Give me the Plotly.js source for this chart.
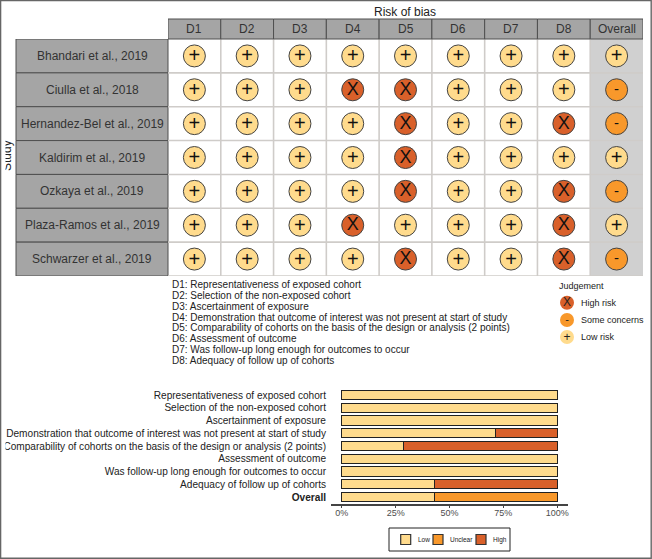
<!DOCTYPE html>
<html><head><meta charset="utf-8">
<script src="https://cdn.plot.ly/plotly-3.0.1.min.js"></script>
<style>html,body{margin:0;padding:0;background:#fff}</style></head>
<body><div id="chart" style="width:652px;height:559px"></div>
<script>
var domains = ["D1","D2","D3","D4","D5","D6","D7","D8","Overall"];
var studies = ["Bhandari et al., 2019","Ciulla et al., 2018","Hernandez-Bel et al., 2019","Kaldirim et al., 2019","Ozkaya et al., 2019","Plaza-Ramos et al., 2019","Schwarzer et al., 2019"];
var bhandari = ["+","+","+","+","+","+","+","+","+"];
var ciulla   = ["+","+","+","X","X","+","+","+","-"];
var hernandez= ["+","+","+","+","X","+","+","X","-"];
var kaldirim = ["+","+","+","+","X","+","+","+","+"];
var ozkaya   = ["+","+","+","+","X","+","+","X","-"];
var plaza    = ["+","+","+","X","+","+","+","X","+"];
var schwarzer= ["+","+","+","+","X","+","+","X","-"];
var judgements = [bhandari,ciulla,hernandez,kaldirim,ozkaya,plaza,schwarzer];
var definitions = ["D1: Representativeness of exposed cohort","D2: Selection of the non-exposed cohort","D3: Ascertainment of exposure","D4: Demonstration that outcome of interest was not present at start of study","D5: Comparability of cohorts on the basis of the design or analysis (2 points)","D6: Assessment of outcome","D7: Was follow-up long enough for outcomes to occur","D8: Adequacy of follow up of cohorts"];
var judgementSymbols = ["X","-","+"];
var judgementLabels = ["High risk","Some concerns","Low risk"];
var barCategories = ["Representativeness of exposed cohort","Selection of the non-exposed cohort","Ascertainment of exposure","Demonstration that outcome of interest was not present at start of study","Comparability of cohorts on the basis of the design or analysis (2 points)","Assessment of outcome","Was follow-up long enough for outcomes to occur","Adequacy of follow up of cohorts","<b>Overall</b>"];
var lowValues     = [100,100,100,71.4,28.6,100,100,42.9,42.9];
var unclearValues = [0,0,0,0,0,0,0,0,57.1];
var highValues    = [0,0,0,28.6,71.4,0,0,57.1,0];
var barLegendLabels = ["Low","Unclear","High"];
var percentTicks = [0,25,50,75,100];

var W=652,H=559;
function px(x){return x/W;}
function py(y){return 1-y/H;}
var FONT="'Liberation Sans', Arial, sans-serif";
var COL={"X":"#D9602A","-":"#F8982B","+":"#FFDB8D"};
var BARCOL=["#FFDB8D","#F8982B","#D9602A"];
var TEXTSIZE={"X":18,"-":15,"+":20};
var traces=[],shapes=[],annotations=[];
function note(o){o.showarrow=false;o.yanchor="middle";if(!o.xanchor)o.xanchor="center";o.borderpad=0;annotations.push(o);}

/* panel geometry */
var L=168,R=643,T=39,B=276,HT=19,SL=16;
var ROWPX=(B-T)/studies.length;
var GLYPHSHIFT={"X":0.5,"-":0.5,"+":1.5};
shapes.push({type:"rect",layer:"below",xref:"x",yref:"paper",x0:7.5,x1:8.5,y0:py(B),y1:py(T),fillcolor:"#D0D0D0",line:{width:0}});
for(var i=1;i<domains.length;i++){
  shapes.push({type:"line",layer:"below",xref:"x",yref:"paper",x0:i-0.5,x1:i-0.5,y0:py(B),y1:py(T),line:{color:"#CFCCC9",width:1.6}});
}
for(var j=1;j<=studies.length;j++){
  shapes.push({type:"line",layer:"below",xref:"x",yref:"y",x0:-0.5,x1:8.5,y0:j-0.5,y1:j-0.5,line:{color:"#CFCCC9",width:1.6}});
}
domains.forEach(function(d,i){
  shapes.push({type:"rect",layer:"below",xref:"x",yref:"paper",x0:i-0.5,x1:i+0.5,y0:py(T),y1:py(HT),fillcolor:"#A5A5A5",line:{color:"#4F4F4F",width:1}});
  note({xref:"x",yref:"paper",x:i,y:py((T+HT)/2),text:d,font:{family:FONT,size:12,color:"#333"}});
});
studies.forEach(function(s,j){
  shapes.push({type:"rect",layer:"below",xref:"paper",yref:"y",x0:px(SL),x1:px(L),y0:j-0.5,y1:j+0.5,fillcolor:"#A5A5A5",line:{color:"#4F4F4F",width:1}});
  note({xref:"paper",yref:"y",x:px((SL+L)/2),y:j,text:s,font:{family:FONT,size:12,color:"#333"}});
});
note({xref:"paper",yref:"paper",x:px(405),y:py(12.5),text:"Risk of bias",font:{family:FONT,size:12,color:"#222"}});

/* traffic light points */
judgementSymbols.forEach(function(sym){
  var xs=[],ys=[],tx=[];
  judgements.forEach(function(row,j){row.forEach(function(v,i){if(v===sym){xs.push(i);ys.push(j);tx.push(sym);}});});
  traces.push({type:"scatter",mode:"markers",x:xs,y:ys,cliponaxis:false,
    marker:{size:22,color:COL[sym],line:{color:"#444",width:1}},hoverinfo:"skip",xaxis:"x",yaxis:"y"});
  traces.push({type:"scatter",mode:"text",x:xs,y:ys.map(function(v){return v+GLYPHSHIFT[sym]/ROWPX;}),text:tx,textposition:"middle center",cliponaxis:false,
    textfont:{family:FONT,size:TEXTSIZE[sym],color:"#111"},hoverinfo:"skip",xaxis:"x",yaxis:"y"});
});

/* summary bars */
[lowValues,unclearValues,highValues].forEach(function(v,k){
  traces.push({type:"bar",orientation:"h",x:v,y:barCategories,width:0.74,name:barLegendLabels[k],marker:{color:BARCOL[k],line:{color:"#222",width:1}},hoverinfo:"skip",xaxis:"x2",yaxis:"y2"});
});

/* definitions */
definitions.forEach(function(t,i){
  note({xref:"paper",yref:"paper",xanchor:"left",x:px(171),y:py(284.5+i*10.85),text:t,font:{family:FONT,size:10,color:"#222"}});
});

/* judgement key, on pixel overlay axes */
note({xref:"paper",yref:"paper",xanchor:"left",x:px(558),y:py(285.5),text:"Judgement",font:{family:FONT,size:9,color:"#222"}});
var keyY=[302.7,320,337];
judgementSymbols.forEach(function(sym,k){
  traces.push({type:"scatter",mode:"markers",x:[567],y:[keyY[k]],marker:{size:14,color:COL[sym],line:{width:0}},hoverinfo:"skip",xaxis:"x3",yaxis:"y3"});
  traces.push({type:"scatter",mode:"text",x:[567],y:[keyY[k]+GLYPHSHIFT[sym]*0.6],text:[sym],textposition:"middle center",textfont:{family:FONT,size:sym==="-"?11:12,color:"#222"},hoverinfo:"skip",xaxis:"x3",yaxis:"y3"});
  note({xref:"paper",yref:"paper",xanchor:"left",x:px(580),y:py(keyY[k]),text:judgementLabels[k],font:{family:FONT,size:9,color:"#222"}});
});

/* bar key */
var swX=[405.7,438,481],swT=[416.5,449,491.5];
shapes.push({type:"rect",xref:"paper",yref:"paper",x0:px(389),x1:px(510),y0:py(551),y1:py(528),fillcolor:"rgba(0,0,0,0)",line:{color:"#222",width:1}});
barLegendLabels.forEach(function(t,k){
  traces.push({type:"scatter",mode:"markers",x:[swX[k]],y:[539.5],marker:{symbol:"square",size:10,color:BARCOL[k],line:{color:"#333",width:1.2}},hoverinfo:"skip",xaxis:"x3",yaxis:"y3"});
  note({xref:"paper",yref:"paper",xanchor:"left",x:px(swT[k]),y:py(539.5),text:t,font:{family:FONT,size:6.5,color:"#222"}});
});

/* mask that crops text at left, and frame */
shapes.push({type:"rect",xref:"paper",yref:"paper",x0:px(1),x1:px(5.5),y0:0,y1:1,fillcolor:"#fff",line:{width:0}});
shapes.push({type:"rect",xref:"paper",yref:"paper",x0:px(0.6),x1:px(651.2),y0:py(558.2),y1:py(0.6),fillcolor:"rgba(0,0,0,0)",line:{color:"#666",width:1.4}});

var hidden={showgrid:false,zeroline:false,showline:false,showticklabels:false,ticks:""};
var layout={width:W,height:H,autosize:false,margin:{l:0,r:0,t:0,b:0},paper_bgcolor:"#fff",plot_bgcolor:"rgba(0,0,0,0)",showlegend:false,barmode:"stack",
  font:{family:FONT},
  xaxis:Object.assign({},hidden,{domain:[px(L),px(R)],range:[-0.5,8.5],anchor:"y"}),
  yaxis:{domain:[py(B),py(T)],range:[6.5,-0.5],anchor:"free",position:px(13),showgrid:false,zeroline:false,showline:false,ticks:"",tickmode:"array",tickvals:[3],ticktext:["Study"],tickangle:-90,tickfont:{family:FONT,size:12,color:"#222"}},
  xaxis2:{domain:[px(331),px(568)],range:[-5,105],anchor:"y2",showgrid:false,zeroline:false,showline:true,linecolor:"#444",linewidth:1.5,ticks:"outside",ticklen:2,tickcolor:"#444",tickwidth:1,ticklabelstandoff:-2,tickmode:"array",tickvals:percentTicks,ticktext:percentTicks.map(function(v){return v+"%";}),tickfont:{family:FONT,size:9,color:"#4d4d4d"}},
  yaxis2:{domain:[py(504),py(388)],range:[8.55,-0.55],anchor:"x2",type:"category",showgrid:false,zeroline:false,showline:false,ticks:"",ticklabelstandoff:4,tickfont:{family:FONT,size:10.1,color:"#222"}},
  xaxis3:Object.assign({},hidden,{domain:[0,1],range:[0,W],anchor:"y3"}),
  yaxis3:Object.assign({},hidden,{domain:[0,1],range:[H,0],anchor:"x3"}),
  shapes:shapes,annotations:annotations};
Plotly.newPlot("chart",traces,layout,{displayModeBar:false,staticPlot:true});
</script></body></html>
